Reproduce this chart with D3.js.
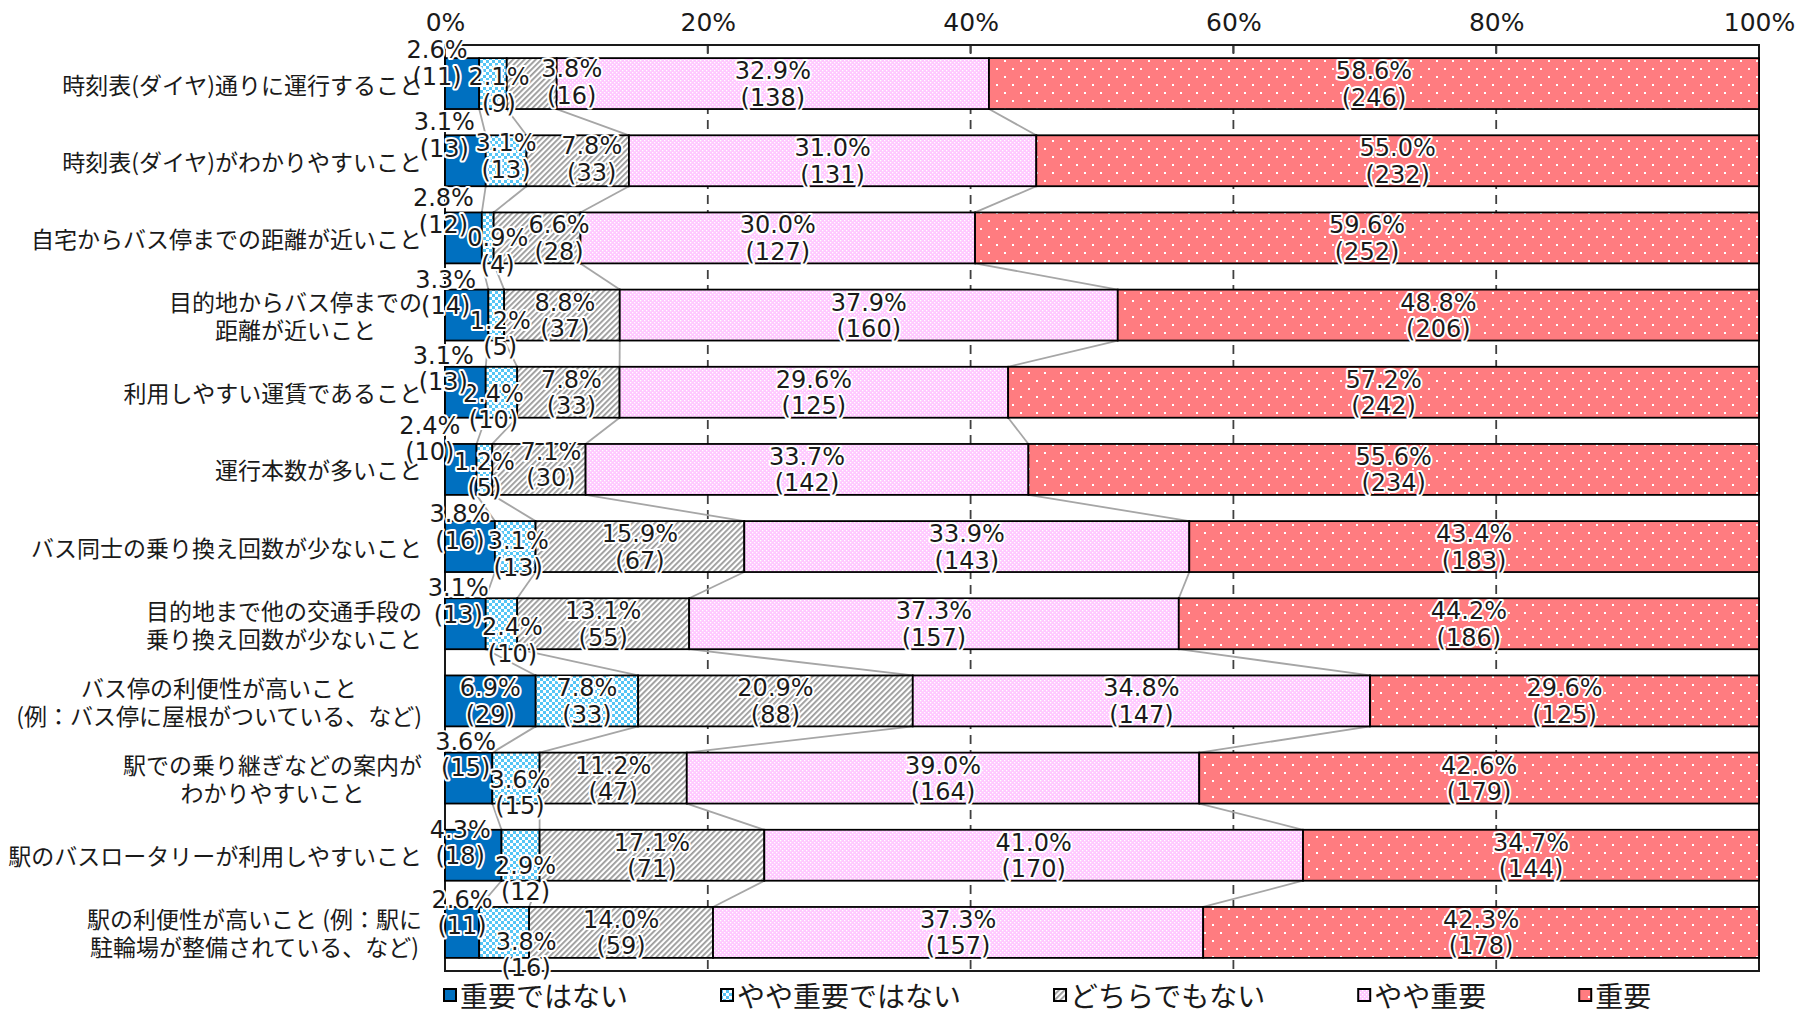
<!DOCTYPE html>
<html><head><meta charset="utf-8">
<script src="https://cdn.jsdelivr.net/npm/d3@7"></script>
<style>body{margin:0;background:#fff} svg{display:block}</style>
</head><body>
<svg id="chart" width="1817" height="1014"></svg>
<script>
// ---------- data ----------
const categories = [
  "時刻表(ダイヤ)通りに運行すること",
  "時刻表(ダイヤ)がわかりやすいこと",
  "自宅からバス停までの距離が近いこと",
  "目的地からバス停までの\n距離が近いこと",
  "利用しやすい運賃であること",
  "運行本数が多いこと",
  "バス同士の乗り換え回数が少ないこと",
  "目的地まで他の交通手段の\n乗り換え回数が少ないこと",
  "バス停の利便性が高いこと\n(例：バス停に屋根がついている、など)",
  "駅での乗り継ぎなどの案内が\nわかりやすいこと",
  "駅のバスロータリーが利用しやすいこと",
  "駅の利便性が高いこと (例：駅に\n駐輪場が整備されている、など)"
];
const seriesNames = ["重要ではない", "やや重要ではない", "どちらでもない", "やや重要", "重要"];

const pctNotImportant      = [2.6, 3.1, 2.8, 3.3, 3.1, 2.4, 3.8, 3.1, 6.9, 3.6, 4.3, 2.6];
const pctSomewhatNot       = [2.1, 3.1, 0.9, 1.2, 2.4, 1.2, 3.1, 2.4, 7.8, 3.6, 2.9, 3.8];
const pctNeutral           = [3.8, 7.8, 6.6, 8.8, 7.8, 7.1, 15.9, 13.1, 20.9, 11.2, 17.1, 14.0];
const pctSomewhatImportant = [32.9, 31.0, 30.0, 37.9, 29.6, 33.7, 33.9, 37.3, 34.8, 39.0, 41.0, 37.3];
const pctImportant         = [58.6, 55.0, 59.6, 48.8, 57.2, 55.6, 43.4, 44.2, 29.6, 42.6, 34.7, 42.3];

const cntNotImportant      = [11, 13, 12, 14, 13, 10, 16, 13, 29, 15, 18, 11];
const cntSomewhatNot       = [9, 13, 4, 5, 10, 5, 13, 10, 33, 15, 12, 16];
const cntNeutral           = [16, 33, 28, 37, 33, 30, 67, 55, 88, 47, 71, 59];
const cntSomewhatImportant = [138, 131, 127, 160, 125, 142, 143, 157, 147, 164, 170, 157];
const cntImportant         = [246, 232, 252, 206, 242, 234, 183, 186, 125, 179, 144, 178];

const tickValues = [0, 0.2, 0.4, 0.6, 0.8, 1];
const tickLabels = ["0%", "20%", "40%", "60%", "80%", "100%"];

// ---------- layout / style ----------
const labelNudges = { // "row-series": [dx, dy] manual label displacements (px)
  "0-0": [-25, -21], "0-1": [6, 6],   "0-2": [40, -2],
  "1-0": [-21, -26], "1-1": [0, -5],  "1-2": [14, -2],
  "2-0": [-20, -27], "2-1": [10, 13], "2-2": [22, 0],
  "3-0": [-21, -23], "3-1": [4, 18],  "3-2": [3, 0],
  "4-0": [-22, -24], "4-1": [-8, 14], "4-2": [3, 0],
  "5-0": [-31, -31], "5-1": [0, 5],   "5-2": [12, -5],
  "6-0": [-10, -20], "6-1": [3, 7],
  "7-0": [-7, -23],  "7-1": [11, 16],
  "9-0": [-3, -24],  "9-1": [4, 14],
  "10-0": [-13, -13], "10-1": [5, 23],
  "11-0": [0, -20],  "11-1": [22, 22]
};
const M = {left: 445, right: 1759, top: 45, bottom: 971};
const fills = ["#0070C0", "url(#pBlue)", "url(#pHatch)", "url(#pPink)", "url(#pRed)"];
const numFont = "'DejaVu Sans', sans-serif";
const jpFont = "'Noto Sans CJK JP', sans-serif";

const pctSeries = [pctNotImportant, pctSomewhatNot, pctNeutral, pctSomewhatImportant, pctImportant];
const cntSeries = [cntNotImportant, cntSomewhatNot, cntNeutral, cntSomewhatImportant, cntImportant];

const rows = categories.map((c, i) => {
  const o = {cat: c};
  seriesNames.forEach((s, k) => { o[s] = pctSeries[k][i]; });
  return o;
});
const stacked = d3.stack().keys(seriesNames).offset(d3.stackOffsetExpand)(rows);

const svg = d3.select("#chart");
const defs = svg.append("defs");

// patterns
const pb = defs.append("pattern").attr("id", "pBlue").attr("patternUnits", "userSpaceOnUse").attr("width", 6).attr("height", 6);
pb.append("rect").attr("width", 6).attr("height", 6).attr("fill", "#fff");
pb.append("rect").attr("width", 3).attr("height", 3).attr("fill", "#55C5F5");
pb.append("rect").attr("x", 3).attr("y", 3).attr("width", 3).attr("height", 3).attr("fill", "#55C5F5");

const ph = defs.append("pattern").attr("id", "pHatch").attr("patternUnits", "userSpaceOnUse").attr("width", 4).attr("height", 4).attr("patternTransform", "rotate(45)");
ph.append("rect").attr("width", 4).attr("height", 4).attr("fill", "#fff");
ph.append("rect").attr("width", 1.8).attr("height", 4).attr("fill", "#9A9A9A");

const pp = defs.append("pattern").attr("id", "pPink").attr("patternUnits", "userSpaceOnUse").attr("width", 4).attr("height", 4);
pp.append("rect").attr("width", 4).attr("height", 4).attr("fill", "#FFC8FF");
pp.append("rect").attr("width", 1.3).attr("height", 1.3).attr("fill", "#fff");
pp.append("rect").attr("x", 2).attr("y", 2).attr("width", 1.3).attr("height", 1.3).attr("fill", "#fff");

const pr = defs.append("pattern").attr("id", "pRed").attr("patternUnits", "userSpaceOnUse").attr("width", 16).attr("height", 16);
pr.append("rect").attr("width", 16).attr("height", 16).attr("fill", "#FF7C80");
pr.append("rect").attr("x", 4).attr("y", 4).attr("width", 2).attr("height", 2).attr("fill", "#fff");
pr.append("rect").attr("x", 12).attr("y", 12).attr("width", 2).attr("height", 2).attr("fill", "#fff");

// scales
const x = d3.scaleLinear().domain([0, 1]).range([M.left, M.right]);
const y = d3.scaleBand().domain(categories).range([M.top, M.bottom]).paddingInner(0.34).paddingOuter(0.17);
const bw = y.bandwidth();

// gridlines
svg.append("g").selectAll("line").data(tickValues.slice(1, -1)).join("line")
  .attr("x1", d => x(d)).attr("x2", d => x(d)).attr("y1", M.top).attr("y2", M.bottom)
  .attr("stroke", "#404040").attr("stroke-width", 1.8).attr("stroke-dasharray", "9,6");

// top axis
const xAxis = d3.axisTop(x).tickValues(tickValues).tickFormat((d, i) => tickLabels[i]).tickSize(0).tickPadding(14);
const ax = svg.append("g").attr("transform", `translate(0,${M.top})`).call(xAxis);
ax.select(".domain").remove();
ax.selectAll("text").attr("font-family", numFont).attr("font-size", 25).attr("fill", "#1a1a1a");
svg.append("g").selectAll("line").data(tickValues.slice(1, -1)).join("line")
  .attr("x1", d => x(d)).attr("x2", d => x(d)).attr("y1", M.top).attr("y2", M.top + 8)
  .attr("stroke", "#404040").attr("stroke-width", 2);

// frame
svg.append("rect").attr("x", M.left).attr("y", M.top).attr("width", M.right - M.left).attr("height", M.bottom - M.top)
  .attr("fill", "none").attr("stroke", "#1a1a1a").attr("stroke-width", 2);

// series lines
const slData = [];
for (let k = 0; k < 4; k++) {
  for (let r = 0; r < categories.length - 1; r++) {
    slData.push({x1: x(stacked[k][r][1]), y1: y(categories[r]) + bw, x2: x(stacked[k][r + 1][1]), y2: y(categories[r + 1])});
  }
}
svg.append("g").selectAll("line").data(slData).join("line")
  .attr("x1", d => d.x1).attr("y1", d => d.y1).attr("x2", d => d.x2).attr("y2", d => d.y2)
  .attr("stroke", "#A6A6A6").attr("stroke-width", 1.8);

// bars
svg.append("g").selectAll("g").data(stacked).join("g")
  .attr("fill", (d, k) => fills[k])
  .selectAll("rect").data(d => d).join("rect")
  .attr("x", d => x(d[0])).attr("width", d => x(d[1]) - x(d[0]))
  .attr("y", d => y(d.data.cat)).attr("height", bw)
  .attr("stroke", "#000").attr("stroke-width", 1.8);

// value labels
const lblData = [];
stacked.forEach((ser, k) => ser.forEach((d, r) => {
  const nud = labelNudges[r + "-" + k] || [0, 0];
  lblData.push({
    cx: (x(d[0]) + x(d[1])) / 2 + nud[0],
    cy: y(d.data.cat) + bw / 2 + nud[1],
    pct: pctSeries[k][r].toFixed(1) + "%",
    cnt: "(" + cntSeries[k][r] + ")"
  });
}));
const lg = svg.append("g").attr("font-family", numFont).attr("font-size", 24).attr("text-anchor", "middle");
["pct", "cnt"].forEach((key, li) => {
  lg.append("g").selectAll("text").data(lblData).join("text")
    .attr("x", d => d.cx).attr("y", d => d.cy + (li === 0 ? -12.5 : 14))
    .attr("dominant-baseline", "central")
    .attr("fill", "#1a1a1a").attr("stroke", "#fff").attr("stroke-width", 4)
    .attr("stroke-linejoin", "round").attr("paint-order", "stroke")
    .text(d => d[key]);
});

// category labels
const catG = svg.append("g").attr("font-family", jpFont).attr("font-size", 23).attr("fill", "#1a1a1a");
categories.forEach(c => {
  const lines = c.split("\n");
  const cy = y(c) + bw / 2;
  const ts = lines.map((ln, i) => catG.append("text")
    .attr("text-anchor", "middle").attr("dominant-baseline", "central")
    .attr("y", cy + (i - (lines.length - 1) / 2) * 28).text(ln));
  const w = d3.max(ts, t => t.node().getComputedTextLength());
  ts.forEach(t => t.attr("x", 422 - w / 2));
});

// legend
const legG = svg.append("g").attr("font-family", jpFont).attr("font-size", 28).attr("fill", "#1a1a1a");
let lx = 444;
seriesNames.forEach((s, k) => {
  legG.append("rect").attr("x", lx).attr("y", 989).attr("width", 12).attr("height", 12)
    .attr("fill", fills[k]).attr("stroke", "#000").attr("stroke-width", 2);
  const t = legG.append("text").attr("x", lx + 16).attr("y", 995).attr("dominant-baseline", "central").text(s);
  lx += 16 + t.node().getComputedTextLength() + 93;
});
</script>
</body></html>
